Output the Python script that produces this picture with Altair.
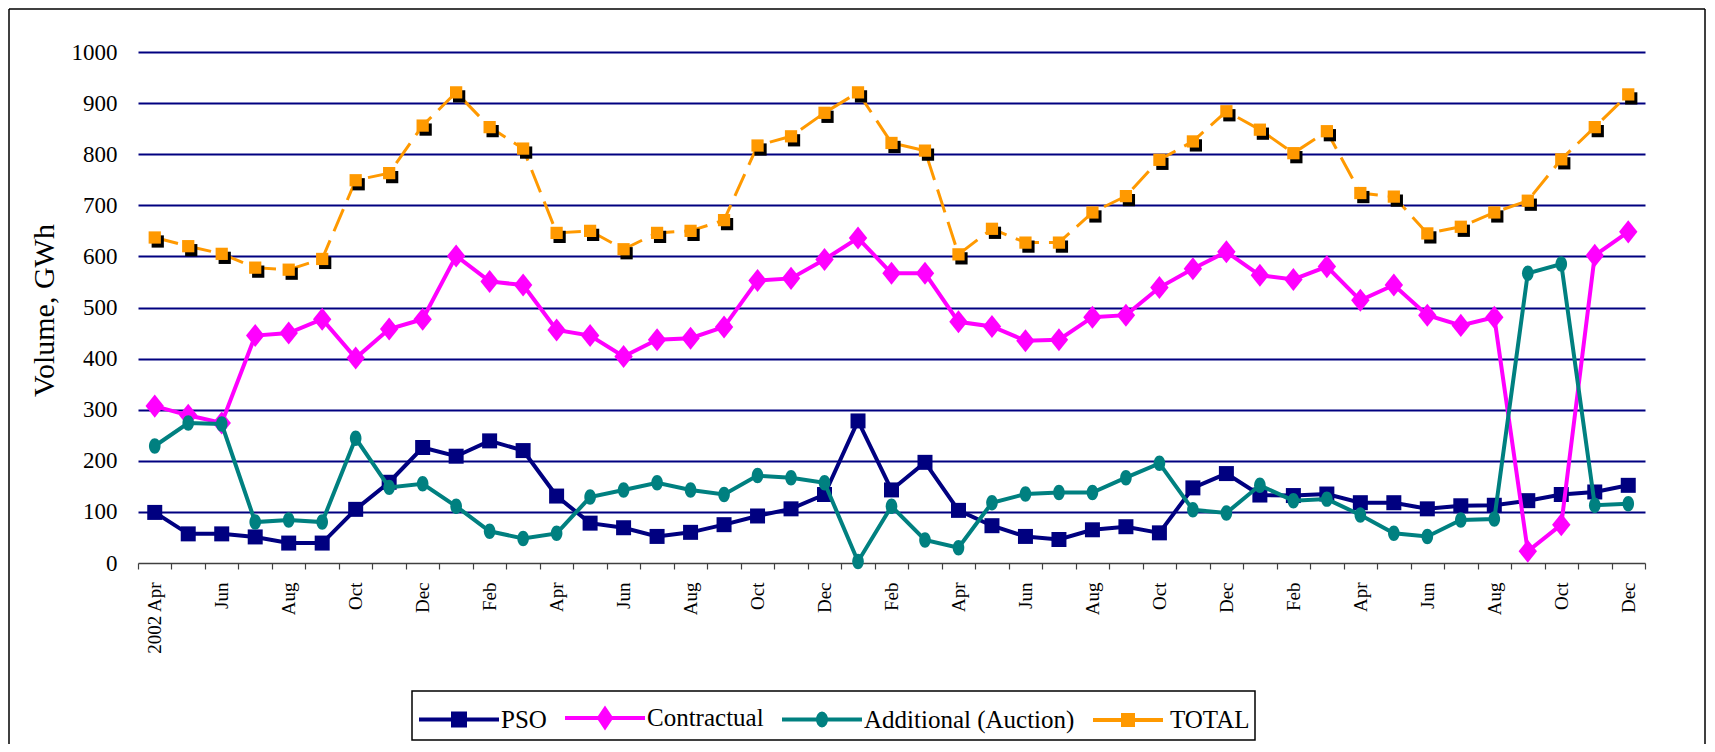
import json
import altair as alt
import pandas as pd

# ---- data ----
months = [
    "2002-04", "2002-05", "2002-06", "2002-07", "2002-08", "2002-09", "2002-10", "2002-11", "2002-12",
    "2003-01", "2003-02", "2003-03", "2003-04", "2003-05", "2003-06", "2003-07", "2003-08", "2003-09",
    "2003-10", "2003-11", "2003-12", "2004-01", "2004-02", "2004-03", "2004-04", "2004-05", "2004-06",
    "2004-07", "2004-08", "2004-09", "2004-10", "2004-11", "2004-12", "2005-01", "2005-02", "2005-03",
    "2005-04", "2005-05", "2005-06", "2005-07", "2005-08", "2005-09", "2005-10", "2005-11", "2005-12",
]
tick_labels = [
    "2002 Apr", "", "Jun", "", "Aug", "", "Oct", "", "Dec",
    "", "Feb", "", "Apr", "", "Jun", "", "Aug", "",
    "Oct", "", "Dec", "", "Feb", "", "Apr", "", "Jun",
    "", "Aug", "", "Oct", "", "Dec", "", "Feb", "",
    "Apr", "", "Jun", "", "Aug", "", "Oct", "", "Dec",
]
y_ticks = [0, 100, 200, 300, 400, 500, 600, 700, 800, 900, 1000]

series = ["PSO", "Contractual", "Additional (Auction)", "TOTAL"]
colors = ["#000080", "#FF00FF", "#008080", "#FF9900"]

pso = [99, 57, 57, 51, 39, 39, 105, 158, 226, 209, 239, 220,
       131, 78, 69, 52, 60, 75, 92, 106, 134, 278, 143, 197,
       103, 73, 52, 46, 65, 71, 59, 147, 175, 133, 132, 135,
       118, 118, 106, 112, 113, 122, 134, 139, 152]
contractual = [307, 289, 274, 445, 450, 477, 401, 458, 477, 601, 551, 544,
               456, 445, 404, 437, 440, 462, 553, 557, 594, 636, 567, 567,
               472, 463, 435, 437, 481, 485, 539, 576, 609, 563, 555, 580,
               514, 544, 485, 465, 481, 23, 75, 602, 648]
additional = [229, 274, 272, 80, 84, 80, 244, 148, 155, 111, 62, 48,
              58, 129, 143, 157, 143, 134, 171, 167, 157, 3, 111, 45,
              30, 118, 135, 138, 138, 167, 195, 104, 98, 152, 122, 125,
              94, 58, 52, 84, 86, 567, 585, 113, 116]
total = [637, 620, 605, 578, 574, 595, 749, 763, 856, 921, 853, 811,
         646, 650, 614, 646, 650, 671, 817, 835, 881, 921, 822, 807,
         604, 654, 627, 627, 686, 718, 789, 825, 884, 848, 802, 845,
         724, 717, 645, 658, 686, 709, 790, 853, 917]

rows = []
for name, vals in zip(series, [pso, contractual, additional, total]):
    for m, v in zip(months, vals):
        rows.append({"month": m, "series": name, "value": v})
df = pd.DataFrame(rows)

FONT = "Liberation Serif, Times New Roman, serif"
label_expr = f"{json.dumps(tick_labels)}[indexof({json.dumps(months)}, datum.value)]"

x_enc = alt.X(
    "month:O", sort=months,
    scale=alt.Scale(type="band", paddingInner=0, paddingOuter=0),
    axis=alt.Axis(title=None, labelAngle=270, labelExpr=label_expr, tickBand="extent",
                  tickSize=6, tickColor="#404040", tickWidth=1.2, domainColor="#404040",
                  domainWidth=1.5, labelFont=FONT, labelFontSize=19, labelColor="black",
                  labelPadding=13, grid=False, labelOverlap=False),
)
y_enc = alt.Y(
    "value:Q", scale=alt.Scale(domain=[0, 1000], nice=False),
    axis=alt.Axis(values=y_ticks, format="d", title="Volume, GWh", domain=False, ticks=False,
                  labelFont=FONT, labelFontSize=23, labelColor="black", labelPadding=21,
                  gridColor={"condition": {"test": "datum.value === 0", "value": "transparent"},
                             "value": "#000080"},
                  gridWidth=2, gridOpacity=1,
                  titleFont=FONT, titleFontSize=30, titleFontWeight="normal", titleColor="black",
                  titleAngle=270, titleX=-94, titleY=258, titleAlign="center",
                  titleBaseline="middle"),
)

base = alt.Chart(df).encode(x=x_enc, y=y_enc)

def sel(name):
    return base.transform_filter(alt.datum.series == name)

diamond = "M0,-1L0.8,0L0,1L-0.8,0Z"
ellipse = "M-0.75,0A0.75,1 0 1,0 0.75,0A0.75,1 0 1,0 -0.75,0Z"

layers = [
    sel("PSO").mark_line(color=colors[0], strokeWidth=4),
    sel("PSO").mark_point(shape="square", filled=True, size=225, color=colors[0], opacity=1),
    sel("Contractual").mark_line(color=colors[1], strokeWidth=4),
    sel("Contractual").mark_point(shape=diamond, filled=True, size=530, color=colors[1], opacity=1),
    sel("Additional (Auction)").mark_line(color=colors[2], strokeWidth=4),
    sel("Additional (Auction)").mark_point(shape=ellipse, filled=True, size=240, color=colors[2], opacity=1),
    sel("TOTAL").mark_line(color=colors[3], strokeWidth=3, strokeDash=[24, 10]),
    sel("TOTAL").mark_point(shape="square", filled=True, size=150, color="black", opacity=1,
                            xOffset=3, yOffset=4),
    sel("TOTAL").mark_point(shape="square", filled=True, size=150, color=colors[3], opacity=1),
]

legend_paths = [
    "M-2,0H2M-0.3,-0.3H0.3V0.3H-0.3Z",
    "M-2,0H2M0,-0.45L0.3,0L0,0.45L-0.3,0Z",
    "M-2,0H2M-0.2,0A0.2,0.3 0 1,0 0.2,0A0.2,0.3 0 1,0 -0.2,0Z",
    "M-1.75,0H1.75M-0.25,-0.25H0.25V0.25H-0.25Z",
]
leg = alt.Legend(title=None)
legend_layer = alt.Chart(df).transform_filter("false").mark_point(
    filled=True, opacity=1, strokeWidth=4, size=1600
).encode(
    fill=alt.Fill("series:N", scale=alt.Scale(domain=series, range=colors), legend=leg),
    stroke=alt.Stroke("series:N", scale=alt.Scale(domain=series, range=colors), legend=leg),
    shape=alt.Shape("series:N", scale=alt.Scale(domain=series, range=legend_paths), legend=leg),
)

frame_df = pd.DataFrame({"k": [0]})
frame = alt.Chart(frame_df)
frame_top = frame.mark_rule(color="black", strokeWidth=1.5).encode(
    x=alt.value(-129), x2=alt.value(1567), y=alt.value(-43))
frame_left = frame.mark_rule(color="black", strokeWidth=1.5).encode(
    x=alt.value(-129), y=alt.value(-43), y2=alt.value(700))
frame_right = frame.mark_rule(color="black", strokeWidth=1.5).encode(
    x=alt.value(1567), y=alt.value(-43), y2=alt.value(700))

chart = alt.layer(frame_top, frame_left, frame_right, *layers, legend_layer).properties(
    width=1507, height=511,
    background="white",
    autosize=alt.AutoSizeParams(type="none"),
    padding={"left": 130, "top": 44, "right": 62, "bottom": 181},
).configure_view(stroke=None).configure_legend(
    orient="none", legendX=274, legendY=639, direction="horizontal", columns=4,
    columnPadding=10, padding=5, strokeColor="black", fillColor="white", strokeWidth=1.5,
    labelFont=FONT, labelFontSize=25, labelColor="black", labelOffset=20, labelLimit=0,
    symbolOffset=20, symbolSize=1600, symbolStrokeWidth=4,
)

chart.save("out.html", embed_options={"renderer": "svg", "actions": False})
